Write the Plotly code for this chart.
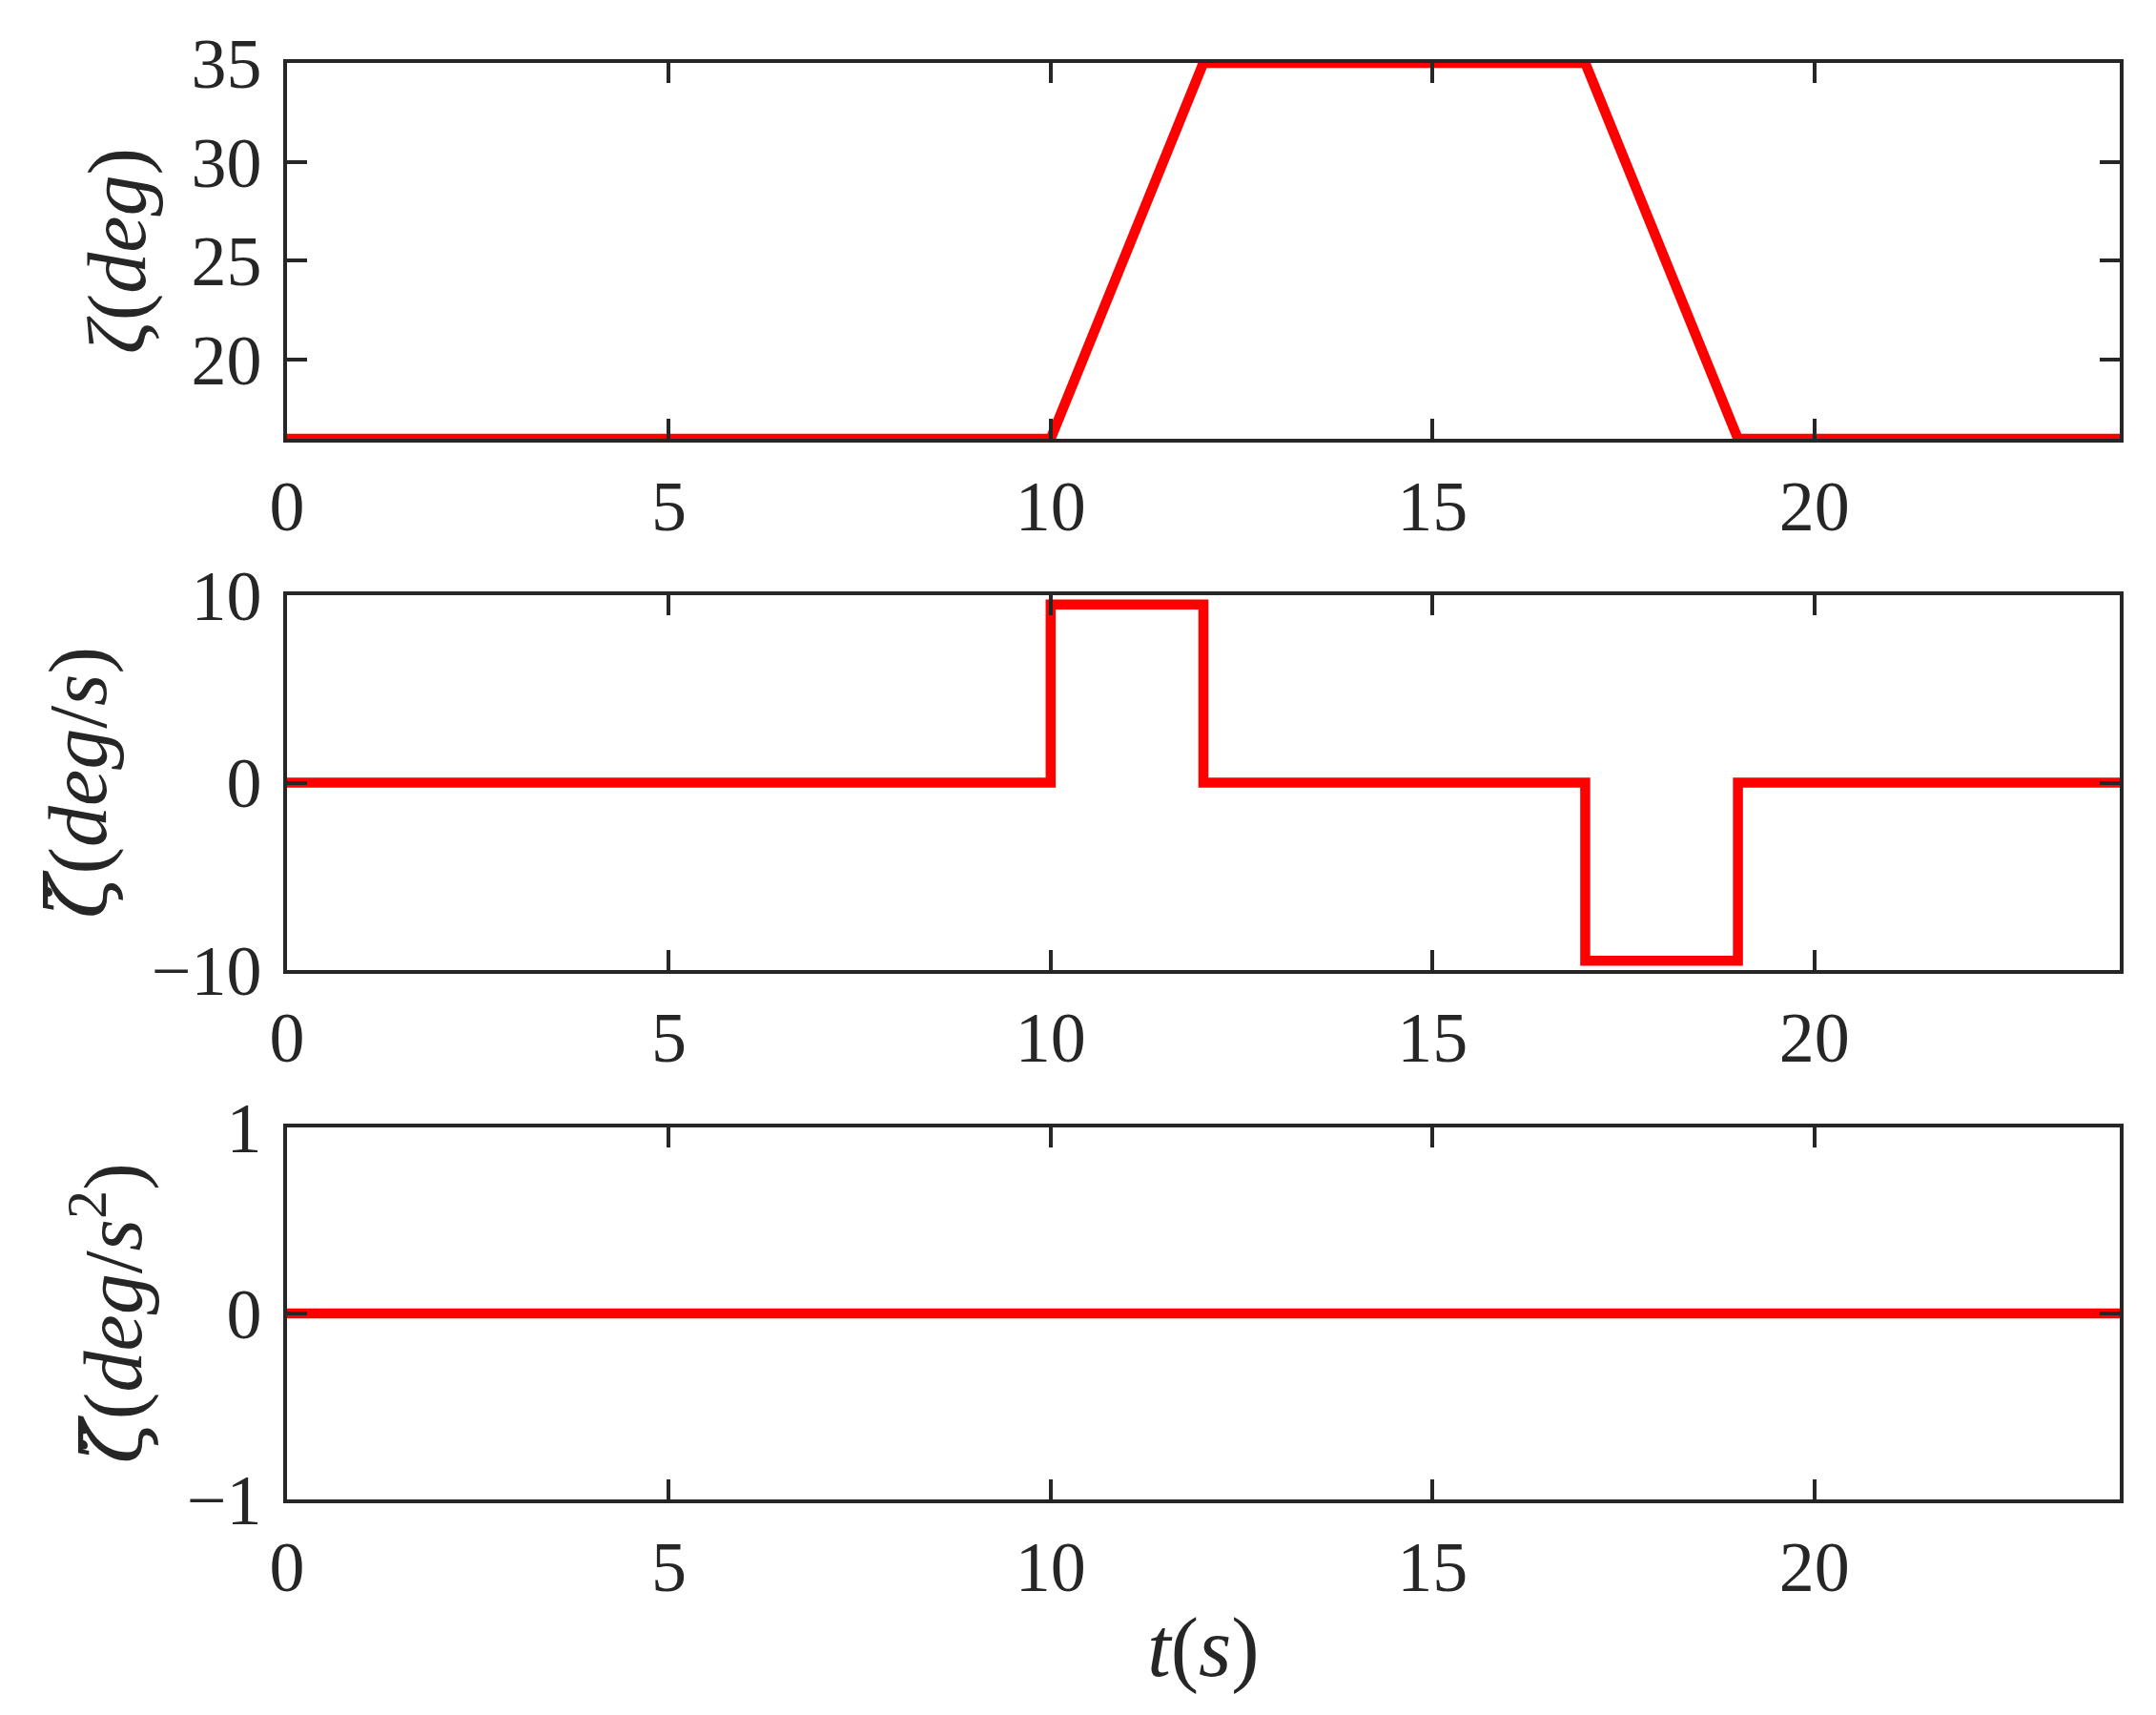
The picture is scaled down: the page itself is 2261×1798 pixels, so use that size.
import plotly.graph_objects as go
from plotly.subplots import make_subplots

# ---- data ----
t_pos = [0, 10, 12, 17, 19, 24]
zeta = [16, 16, 35, 35, 16, 16]

t_vel = [0, 10, 10, 12, 12, 17, 17, 19, 19, 24]
zeta_dot = [0, 0, 9.5, 9.5, 0, 0, -9.5, -9.5, 0, 0]

t_acc = [0, 24]
zeta_ddot = [0, 0]

x_ticks = [0, 5, 10, 15, 20]
y1_ticks = [20, 25, 30, 35]
y2_ticks = [-10, 0, 10]
y3_ticks = [-1, 0, 1]

DV = '<span style="font-family:DejaVu Serif">'
y_titles = [
    "<i>ζ</i>(<i>deg</i>)",
    DV + "<i>ζ\u0307</i></span>(<i>deg</i>/<i>s</i>)",
    DV + "<i>ζ\u0308</i></span>(<i>deg</i>/<i>s</i><sup>2</sup>)",
]
x_title = "<i>t</i>(<i>s</i>)"

RED = "#ff0000"
AX = "#262626"
FONT = "Liberation Serif, Times New Roman, serif"

fig = make_subplots(rows=3, cols=1)
fig.add_trace(go.Scatter(x=t_pos, y=zeta, mode="lines",
                         line=dict(color=RED, width=10.5), showlegend=False), row=1, col=1)
fig.add_trace(go.Scatter(x=t_vel, y=zeta_dot, mode="lines",
                         line=dict(color=RED, width=10.5), showlegend=False), row=2, col=1)
fig.add_trace(go.Scatter(x=t_acc, y=zeta_ddot, mode="lines",
                         line=dict(color=RED, width=10.5), showlegend=False), row=3, col=1)

domains = [[0.7384, 1.0], [0.3685, 0.6295], [0.0, 0.259]]
yranges = [[16, 35], [-10, 10], [-1, 1]]
yticks = [y1_ticks, y2_ticks, y3_ticks]

common = dict(showline=True, linecolor=AX, linewidth=3.5, mirror="ticks",
              ticks="inside", ticklen=21, tickwidth=3.5, tickcolor=AX,
              showgrid=False, zeroline=False,
              tickfont=dict(family=FONT, size=74, color=AX))

for i in range(3):
    r = i + 1
    fig.update_xaxes(range=[0, 24], tickvals=x_ticks, ticklabelstandoff=3,
                     row=r, col=1, **common)
    fig.update_yaxes(range=yranges[i], tickvals=yticks[i], domain=domains[i],
                     ticklabelstandoff=8,
                     title=dict(text=y_titles[i], standoff=20,
                                font=dict(family=FONT, size=86, color=AX)),
                     row=r, col=1, **common)

fig.update_xaxes(title=dict(text=x_title, standoff=14,
                            font=dict(family=FONT, size=88, color=AX)), row=3, col=1)

fig.update_layout(width=2253, height=1790,
                  margin=dict(l=293, r=38, t=58, b=226),
                  paper_bgcolor="white", plot_bgcolor="white")

fig.write_html("out.html")
